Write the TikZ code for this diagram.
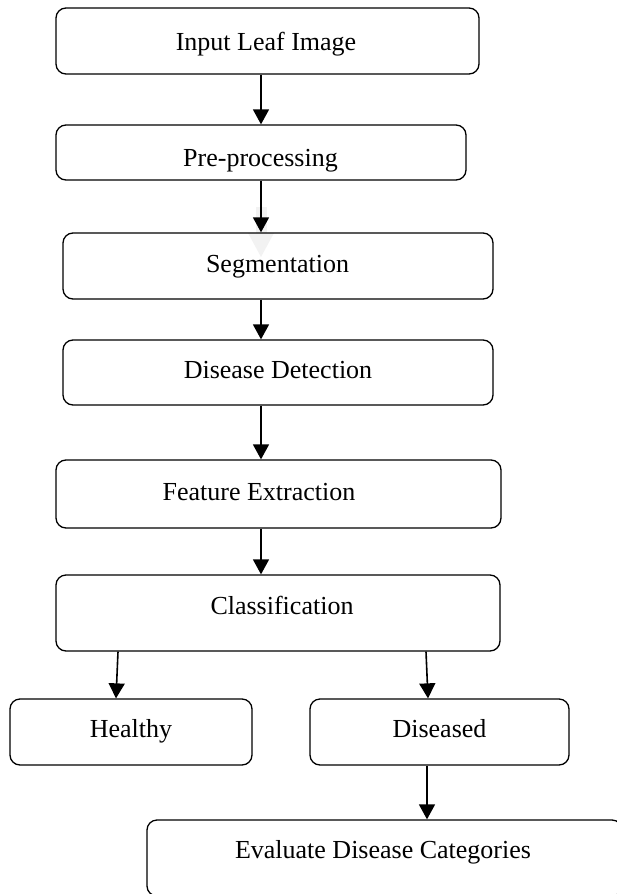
\documentclass[tikz,border=0pt]{standalone}
\usepackage{fontspec}
\setmainfont{Liberation Serif}
\usetikzlibrary{arrows.meta}
\begin{document}
\begin{tikzpicture}[x=1pt,y=-1pt,
  stagebox/.style={draw=black, line width=1.3pt, rounded corners=10pt, inner sep=0pt},
  lbl/.style={anchor=base, inner sep=0pt, font=\fontsize{26}{30}\selectfont},
  arr/.style={line width=1.6pt, -{Triangle[width=16pt,length=15pt]}}
]
\useasboundingbox (0,0) rectangle (616,894);
% boxes
\node[stagebox, minimum width=423pt, minimum height=66pt] (in)  at (267.5,41) {};
\node[stagebox, minimum width=410pt, minimum height=55pt] (pre) at (261,152.5) {};
% faint ghost arrow
\fill[gray!10] (256,207) rectangle (267,233);
\fill[gray!10] (248,233) -- (274,233) -- (261,257) -- cycle;
\node[stagebox, minimum width=430pt, minimum height=66pt] (seg) at (278,266) {};
\node[stagebox, minimum width=430pt, minimum height=65pt] (det) at (278,372.5) {};
\node[stagebox, minimum width=445pt, minimum height=68pt] (feat) at (278.5,494) {};
\node[stagebox, minimum width=444pt, minimum height=76pt] (cls) at (278,613) {};
\node[stagebox, minimum width=242pt, minimum height=66pt] (hea) at (131,732) {};
\node[stagebox, minimum width=259pt, minimum height=66pt] (dis) at (439.5,732) {};
\node[stagebox, minimum width=475pt, minimum height=76pt] (eva) at (384.5,858) {};
% labels
\node[lbl] (tin)  at (266,50)    {Input Leaf Image};
\node[lbl] (tpre) at (260.5,166) {Pre-processing};
\node[lbl] (tseg) at (277.5,272) {Segmentation};
\node[lbl] (tdet) at (278,378)   {Disease Detection};
\node[lbl] (tfeat) at (259,500)  {Feature Extraction};
\node[lbl] (tcls) at (282,614)   {Classification};
\node[lbl] (thea) at (131,737)   {Healthy};
\node[lbl] (tdis) at (439.5,737) {Diseased};
\node[lbl] (teva) at (383,858)   {Evaluate Disease Categories};
% arrow columns
\coordinate (ax) at (261,0);
\coordinate (ha) at (118,0);
\coordinate (hb) at (116,0);
\coordinate (da) at (426,0);
\coordinate (db) at (428,0);
\coordinate (ea) at (427,0);
% connectors
\draw[arr] (in.south -| ax) -- (pre.north -| ax);
\draw[arr] (pre.south -| ax) -- (seg.north -| ax);
\draw[arr] (seg.south -| ax) -- (det.north -| ax);
\draw[arr] (det.south -| ax) -- (feat.north -| ax);
\draw[arr] (feat.south -| ax) -- (cls.north -| ax);
\draw[arr] (cls.south -| ha) -- (hea.north -| hb);
\draw[arr] (cls.south -| da) -- (dis.north -| db);
\draw[arr] (dis.south -| ea) -- (eva.north -| ea);
\end{tikzpicture}
\end{document}
